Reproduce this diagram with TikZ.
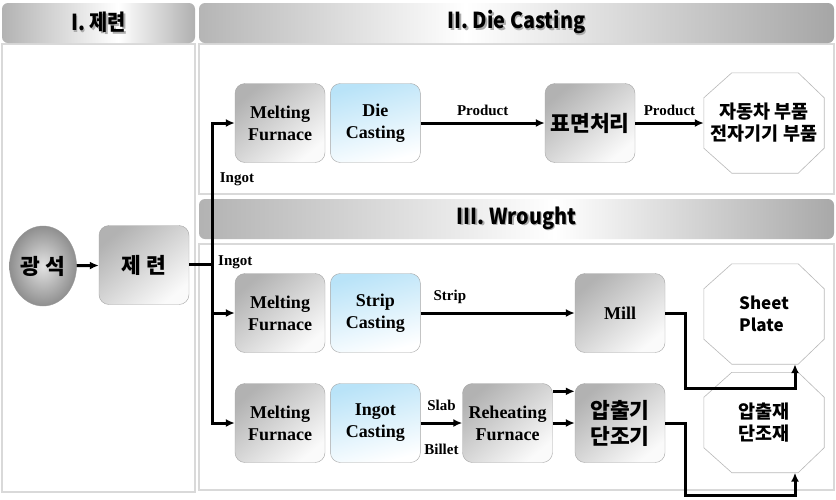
\documentclass[tikz,border=0pt]{standalone}
\usepackage{fontspec}
\setmainfont{Liberation Serif}
\newfontfamily\krfont{Noto Sans CJK KR}
\newfontfamily\headfont{Noto Sans CJK KR}[FakeStretch=0.9]
\usetikzlibrary{positioning, arrows.meta, shapes.geometric}

\definecolor{castblue}{HTML}{B9E3F8}
\definecolor{rimgray}{HTML}{D9D9D9}

% header shadings (path is mapped to 25bp..75bp)
\pgfdeclarehorizontalshading{shadeI}{100bp}{color(0bp)=(gray!60); color(25bp)=(gray!60); color(55bp)=(white); color(75bp)=(gray!62); color(100bp)=(gray!62)}
\pgfdeclarehorizontalshading{shadeII}{100bp}{color(0bp)=(gray!58); color(25bp)=(gray!58); color(46bp)=(white); color(75bp)=(gray!70); color(100bp)=(gray!70)}
\pgfdeclarehorizontalshading{shadeIII}{100bp}{color(0bp)=(gray!60); color(25bp)=(gray!60); color(53bp)=(white); color(75bp)=(gray!68); color(100bp)=(gray!68)}

\newcommand\shadowed[1]{\makebox[0pt][l]{\hspace{1.6pt}\raisebox{-1.6pt}{\color{gray!65}#1}}#1}

\tikzset{
  panel/.style={draw=rimgray, line width=1.2pt, fill=white},
  headbox/.style={rounded corners=6pt, minimum height=40, inner sep=0pt,
    font=\headfont\bfseries\fontsize{22}{26}\selectfont},
  greybox/.style={draw=gray!70, rounded corners=10pt, minimum width=90, minimum height=79,
    inner sep=2pt, align=center, top color=gray!60, bottom color=gray!4, shading angle=40,
    font=\bfseries\fontsize{18}{22}\selectfont},
  bluebox/.style={greybox, top color=castblue, bottom color=white, shading angle=15},
  krbox/.style={greybox, font=\krfont\bfseries\fontsize{21.5}{26}\selectfont},
  ore/.style={ellipse, draw=gray!80, minimum width=67, minimum height=80, inner sep=0pt,
    shading=radial, inner color=gray!22, outer color=gray!88,
    font=\krfont\bfseries\fontsize{21.5}{26}\selectfont},
  octa/.style={minimum width=120, minimum height=100, inner sep=0pt, align=center,
    font=\krfont\bfseries\fontsize{18.5}{22}\selectfont},
  octline/.style={draw=gray!55, line width=0.6pt},
  lbl/.style={font=\bfseries\fontsize{15}{18}\selectfont, inner sep=2pt},
  link/.style={line width=3pt},
  flow/.style={link, -{Latex[length=9pt, width=8pt]}}
}

\begin{document}
\begin{tikzpicture}[x=1pt, y=-1pt]
    \useasboundingbox[fill=white] (0,0) rectangle (836,499);

    % panels and headers
    \draw[panel] (2,44) rectangle (195,492);
    \draw[panel] (199,44) rectangle (834,194);
    \draw[panel] (199,244) rectangle (834,490);
    \node[headbox, shading=shadeI, minimum width=193] (headI) at (98.5,23) {\shadowed{I. 제련}};
    \node[headbox, shading=shadeII, minimum width=635] (headII) at (516.5,23) {\shadowed{II. Die Casting}};
    \node[headbox, shading=shadeIII, minimum width=635] (headIII) at (516.5,219) {\shadowed{III. Wrought}};

    % II. Die Casting
    \node[greybox] (mf1) at (280,123) {Melting\\Furnace};
    \node[bluebox, right=5pt of mf1] (dc) {Die\\Casting};
    \node[krbox] (surf) at (590,123) {표면처리};
    \node[octa] (car) at (764,123) {자동차 부품\\전자기기 부품};

    % I. and III. Wrought
    \node[ore] (ore) at (43,266) {광 석};
    \node[krbox] (jr) at (144,265) {제 련};
    \node[greybox] (mf2) at (280,313) {Melting\\Furnace};
    \node[bluebox, right=5pt of mf2] (sc) {Strip\\Casting};
    \node[greybox] (mill) at (620,313) {Mill};
    \node[octa, align=left, font=\krfont\bfseries\fontsize{17}{22}\selectfont] (sheet) at (764,314) {Sheet\\Plate};
    \node[greybox] (mf3) at (280,423) {Melting\\Furnace};
    \node[bluebox, right=5pt of mf3] (ic) {Ingot\\Casting};
    \node[greybox] (reheat) at (507.5,423) {Reheating\\Furnace};
    \node[krbox] (press) at (620,423) {압출기\\단조기};
    \node[octa] (ext) at (764,422.5) {압출재\\단조재};

    % octagon outlines
    \foreach \o in {car,sheet,ext}
      \draw[octline] ([xshift=28pt]\o.north west) -- ([xshift=-26pt]\o.north east)
        -- ([yshift=-25pt]\o.north east) -- ([yshift=25pt]\o.south east)
        -- ([xshift=-26pt]\o.south east) -- ([xshift=28pt]\o.south west)
        -- ([yshift=25pt]\o.south west) -- ([yshift=-25pt]\o.north west) -- cycle;

    % connectors
    \coordinate (split) at (212,264);
    \draw[flow] (ore) -- (jr);
    \draw[link] (jr.east |- split) -- (split);
    \draw[flow] (split) |- (mf1);
    \draw[flow] (split) |- (mf2);
    \draw[flow] (split) |- (mf3);
    \node[lbl] (ingot1) at (237,179) {Ingot};
    \node[lbl, anchor=west] (ingot2) at (216,262) {Ingot};

    \draw[flow] (dc) -- node[lbl, above=4pt] (prod1) {Product} (surf);
    \draw[flow] (surf) -- node[lbl, above=4pt] (prod2) {Product} (car);
    \draw[flow] (sc) -- node[lbl, above=6pt, pos=0.19] (strip) {Strip} (mill);
    \draw[flow] (ic) -- node[lbl, above=9pt] (slab) {Slab} node[lbl, below=18pt] (billet) {Billet} (reheat);
    \draw[flow] ([yshift=-8pt]reheat.north east) -- ([yshift=-8pt]press.north west);
    \draw[flow] (reheat) -- (press);
    \draw[flow] (mill.east) -- ++(20,0) -- ++(0,75) -| ([xshift=31pt]sheet.south);
    \draw[flow] (press.east) -- ++(20,0) -- ++(0,72) -| ([xshift=31pt]ext.south);
\end{tikzpicture}
\end{document}
